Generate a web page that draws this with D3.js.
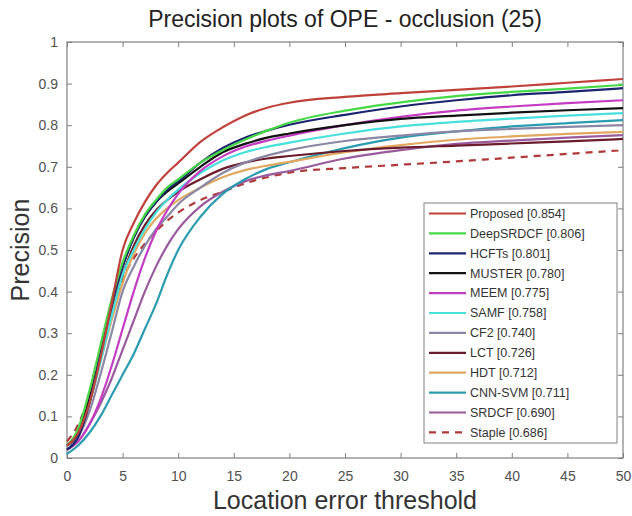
<!DOCTYPE html>
<html>
<head>
<meta charset="utf-8">
<script src="https://cdn.jsdelivr.net/npm/d3@7"></script>
<style>
  body { margin: 0; background: #fff; }
  text { font-family: "Liberation Sans", Arial, sans-serif; }
</style>
</head>
<body>
<div id="chart"></div>
<script>
// thresholds (x) shared by all trackers
var thresholds = [0, 1, 2, 3, 4, 5, 6, 7, 8, 9, 10, 12, 14, 16, 18, 20, 25, 30, 35, 40, 45, 50];

// tracker names as in the legend, precision at 20px in brackets
var trackers = ["Proposed", "DeepSRDCF", "HCFTs", "MUSTER", "MEEM", "SAMF", "CF2", "LCT", "HDT", "CNN-SVM", "SRDCF", "Staple"];
var scores = ["0.854", "0.806", "0.801", "0.780", "0.775", "0.758", "0.740", "0.726", "0.712", "0.711", "0.690", "0.686"];
var colors = ["#c0403a", "#46d846", "#1c2470", "#111111", "#c43cc4", "#48e0dc", "#8a86a6", "#6a1c2c", "#e0a860", "#2a9cb0", "#9a5a9e", "#b03838"];

// precision values
var proposed  = [0.03, 0.06, 0.13, 0.24, 0.37, 0.50, 0.565, 0.615, 0.655, 0.685, 0.71, 0.76, 0.795, 0.823, 0.842, 0.854, 0.868, 0.877, 0.885, 0.893, 0.902, 0.911];
var deepsrdcf = [0.03, 0.07, 0.16, 0.27, 0.38, 0.47, 0.535, 0.585, 0.62, 0.65, 0.67, 0.71, 0.74, 0.765, 0.787, 0.806, 0.835, 0.855, 0.870, 0.880, 0.888, 0.897];
var hcfts     = [0.02, 0.05, 0.13, 0.25, 0.37, 0.46, 0.53, 0.58, 0.615, 0.645, 0.665, 0.71, 0.745, 0.77, 0.787, 0.801, 0.825, 0.845, 0.860, 0.872, 0.880, 0.889];
var muster    = [0.03, 0.06, 0.14, 0.25, 0.37, 0.46, 0.53, 0.58, 0.615, 0.64, 0.66, 0.70, 0.735, 0.755, 0.77, 0.780, 0.800, 0.815, 0.823, 0.830, 0.836, 0.841];
var meem      = [0.02, 0.04, 0.08, 0.14, 0.22, 0.31, 0.40, 0.48, 0.545, 0.595, 0.635, 0.69, 0.725, 0.748, 0.763, 0.775, 0.800, 0.820, 0.835, 0.845, 0.853, 0.860];
var samf      = [0.03, 0.06, 0.13, 0.23, 0.34, 0.44, 0.50, 0.55, 0.59, 0.62, 0.645, 0.685, 0.715, 0.735, 0.748, 0.758, 0.780, 0.797, 0.808, 0.816, 0.823, 0.829];
var cf2       = [0.02, 0.05, 0.11, 0.20, 0.30, 0.40, 0.46, 0.51, 0.55, 0.58, 0.61, 0.65, 0.685, 0.71, 0.727, 0.740, 0.762, 0.775, 0.785, 0.791, 0.796, 0.800];
var lct       = [0.03, 0.06, 0.14, 0.24, 0.35, 0.44, 0.51, 0.56, 0.595, 0.62, 0.64, 0.67, 0.695, 0.71, 0.72, 0.726, 0.738, 0.746, 0.751, 0.756, 0.761, 0.767];
var hdt       = [0.03, 0.06, 0.13, 0.23, 0.33, 0.42, 0.49, 0.54, 0.575, 0.60, 0.62, 0.65, 0.675, 0.692, 0.703, 0.712, 0.735, 0.752, 0.765, 0.773, 0.779, 0.784];
var cnnsvm    = [0.01, 0.03, 0.06, 0.10, 0.15, 0.20, 0.25, 0.31, 0.37, 0.44, 0.50, 0.58, 0.635, 0.67, 0.695, 0.711, 0.745, 0.770, 0.785, 0.797, 0.805, 0.812];
var srdcf     = [0.02, 0.04, 0.08, 0.13, 0.19, 0.26, 0.33, 0.40, 0.46, 0.51, 0.55, 0.605, 0.64, 0.665, 0.68, 0.690, 0.720, 0.740, 0.755, 0.763, 0.770, 0.776];
var staple    = [0.04, 0.08, 0.15, 0.24, 0.35, 0.43, 0.48, 0.515, 0.545, 0.57, 0.59, 0.62, 0.64, 0.66, 0.675, 0.686, 0.697, 0.705, 0.713, 0.722, 0.731, 0.740];

var series = [proposed, deepsrdcf, hcfts, muster, meem, samf, cf2, lct, hdt, cnnsvm, srdcf, staple];

var xTicks = [0, 5, 10, 15, 20, 25, 30, 35, 40, 45, 50];
var yTicks = [0, 0.1, 0.2, 0.3, 0.4, 0.5, 0.6, 0.7, 0.8, 0.9, 1];

//define chart area
var svgWidth = 632;
var svgHeight = 516;

var margin = {top: 42, right: 9, bottom: 58, left: 67};
var width = svgWidth - margin.left - margin.right;
var height = svgHeight - margin.top - margin.bottom;

var svg = d3.select("#chart").append("svg")
    .attr("width", svgWidth)
    .attr("height", svgHeight);

var chartGroup = svg.append("g")
    .attr("transform", `translate(${margin.left}, ${margin.top})`);

var xScale = d3.scaleLinear().domain([0, 50]).range([0, width]);
var yScale = d3.scaleLinear().domain([0, 1]).range([height, 0]);

// axes, matlab style: ticks inside, box on
var axisColor = "#808080";
var labelColor = "#505050";

function styleAxis(g) {
    g.select(".domain").remove();
    g.selectAll(".tick line").attr("stroke", axisColor);
    g.selectAll(".tick text").attr("fill", labelColor).attr("font-size", "14px");
}

chartGroup.append("g")
    .attr("transform", `translate(0, ${height})`)
    .call(d3.axisBottom(xScale).tickValues(xTicks).tickSize(-5).tickPadding(13).tickFormat(d3.format("d")))
    .call(styleAxis);

chartGroup.append("g")
    .call(d3.axisLeft(yScale).tickValues(yTicks).tickSize(-5).tickPadding(9).tickFormat(d => d === 0 || d === 1 ? d : d3.format(".1f")(d)))
    .call(styleAxis);

chartGroup.append("g")
    .call(d3.axisTop(xScale).tickValues(xTicks).tickSize(-5).tickFormat(""))
    .call(styleAxis);

chartGroup.append("g")
    .attr("transform", `translate(${width}, 0)`)
    .call(d3.axisRight(yScale).tickValues(yTicks).tickSize(-5).tickFormat(""))
    .call(styleAxis);

chartGroup.append("rect")
    .attr("width", width)
    .attr("height", height)
    .attr("fill", "none")
    .attr("stroke", axisColor)
    .attr("stroke-width", 1.2);

// curves
var line = d3.line()
    .x((d, i) => xScale(thresholds[i]))
    .y(d => yScale(d))
    .curve(d3.curveMonotoneX);

// draw in reverse so Proposed sits on top
for (var k = series.length - 1; k >= 0; k--) {
    chartGroup.append("path")
        .datum(series[k])
        .attr("fill", "none")
        .attr("stroke", colors[k])
        .attr("stroke-width", 2.2)
        .attr("stroke-dasharray", trackers[k] === "Staple" ? "7,6" : null)
        .attr("d", line);
}

// legend
var legend = svg.append("g").attr("transform", "translate(424, 203)");
legend.append("rect")
    .attr("width", 193)
    .attr("height", 240)
    .attr("fill", "#fff")
    .attr("stroke", axisColor)
    .attr("stroke-width", 1);

var rows = legend.selectAll("g.row")
    .data(trackers)
    .enter().append("g")
    .attr("transform", (d, i) => `translate(0, ${10.5 + i * 19.9})`);

rows.append("line")
    .attr("x1", 5).attr("x2", 42)
    .attr("stroke", (d, i) => colors[i])
    .attr("stroke-width", 2.2)
    .attr("stroke-dasharray", d => d === "Staple" ? "7,6" : null);

rows.append("text")
    .attr("x", 46)
    .attr("dy", "0.35em")
    .attr("font-size", "12.5px")
    .attr("fill", "#333")
    .text((d, i) => `${d} [${scores[i]}]`);

// titles
svg.append("text")
    .attr("x", margin.left + width / 2)
    .attr("y", 27)
    .attr("text-anchor", "middle")
    .attr("font-size", "23px")
    .attr("fill", "#222")
    .text("Precision plots of OPE - occlusion (25)");

svg.append("text")
    .attr("x", margin.left + width / 2)
    .attr("y", 509)
    .attr("text-anchor", "middle")
    .attr("font-size", "25px")
    .attr("fill", "#333")
    .text("Location error threshold");

svg.append("text")
    .attr("transform", "rotate(-90)")
    .attr("x", -(margin.top + height / 2))
    .attr("y", 29)
    .attr("text-anchor", "middle")
    .attr("font-size", "25px")
    .attr("fill", "#333")
    .text("Precision");
</script>
</body>
</html>
